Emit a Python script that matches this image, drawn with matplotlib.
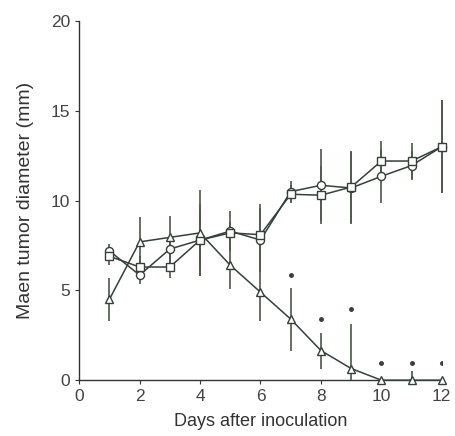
import matplotlib.pyplot as plt

plt.rcParams['font.family'] = ['Liberation Sans', 'DejaVu Sans']

# days after inoculation
days = [1, 2, 3, 4, 5, 6, 7, 8, 9, 10, 11, 12]

# mean tumor diameter (mm) per group, with error bars
circle = [7.2, 5.85, 7.3, 7.8, 8.3, 7.8, 10.5, 10.85, 10.7, 11.35, 11.95, 13.0]
circle_err = [0.4, 0.5, 0.8, 2.0, 1.1, 1.8, 0.6, 2.0, 2.0, 1.5, 0.8, 2.6]
square = [6.9, 6.3, 6.3, 7.8, 8.2, 8.1, 10.35, 10.3, 10.75, 12.2, 12.2, 13.0]
square_err = [0.5, 0.6, 0.6, 1.5, 0.6, 1.7, 0.5, 1.6, 2.0, 1.1, 1.0, 2.6]
triangle = [4.5, 7.7, 7.95, 8.2, 6.4, 4.9, 3.4, 1.65, 0.65, 0, 0, 0]
triangle_err = [1.2, 1.4, 1.2, 2.4, 1.3, 1.6, 1.75, 1.0, 2.5, 0, 0.5, 0]

# significance marks
star_days = [7, 8, 9, 10, 11, 12]
star_y = [5.85, 3.4, 3.95, 0.95, 0.95, 0.95]

col = '#34403a'
ecol = '#4a5a48'

fig = plt.figure(figsize=(4.55, 4.36), dpi=100)
ax = fig.add_axes([0.174, 0.128, 0.797, 0.824])

for y, e, m in [(circle, circle_err, 'o'), (square, square_err, 's'),
                (triangle, triangle_err, '^')]:
    # error bars stop at zero
    lower = [min(v, d) for v, d in zip(y, e)]
    ax.errorbar(days, y, yerr=[lower, e], color=col, ecolor=ecol, elinewidth=1.2,
                capsize=0, lw=1.1, marker=m, ms=5.8, mfc='white', mec=col,
                mew=1.0, clip_on=False, zorder=3)

ax.plot(star_days, star_y, ls='none', marker='o', ms=2.5, color=col)

ax.set_xlim(0, 12)
ax.set_ylim(0, 20)
ax.set_xticks([0, 2, 4, 6, 8, 10, 12])
ax.set_yticks([0, 5, 10, 15, 20])
ax.spines['top'].set_visible(False)
ax.spines['right'].set_visible(False)
for s in ['left', 'bottom']:
    ax.spines[s].set_color('#333333')
    ax.spines[s].set_linewidth(1.0)
ax.tick_params(direction='out', length=3, colors='#333333', labelsize=12.5,
               labelcolor='#444444')

ax.set_xlabel('Days after inoculation', fontsize=13, color='#333333', labelpad=6)
ax.set_ylabel('Maen tumor diameter (mm)', fontsize=14, color='#333333', labelpad=12)

fig.savefig('out.png', dpi=100)
